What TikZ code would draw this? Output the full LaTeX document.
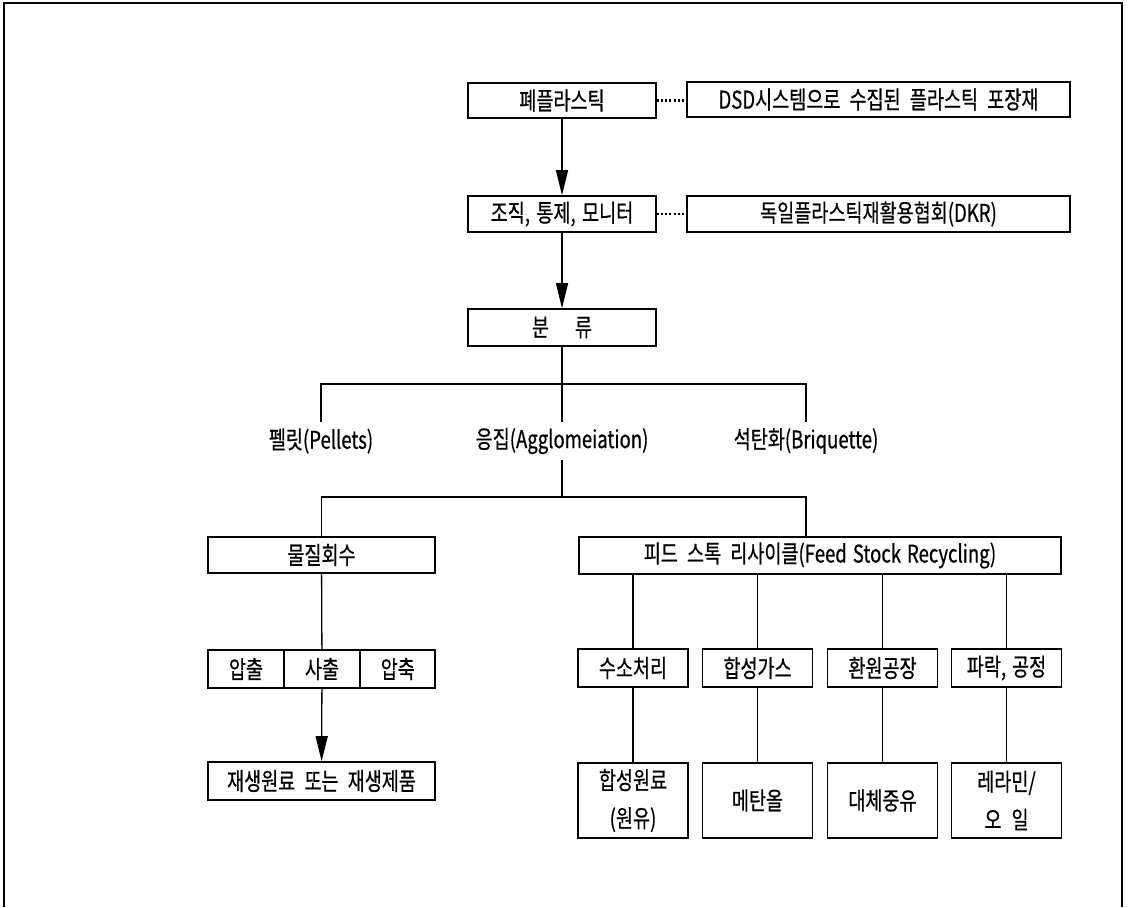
\documentclass[tikz,border=0pt]{standalone}
\usepackage{fontspec}
\newfontfamily\kr[FakeStretch=0.76, FakeBold=0.6, WordSpace=2.2]{Noto Sans CJK KR}
\usetikzlibrary{arrows.meta}
\begin{document}
\begin{tikzpicture}[x=0.5pt,y=-0.5pt,
  every node/.style={font=\kr\fontsize{12.2}{19}\selectfont, inner sep=0pt, align=center},
  box/.style={draw, line width=0.8pt},
  conn/.style={line width=0.65pt},
  arr/.style={line width=0.65pt, -{Triangle[length=12.5pt,width=6pt]}},
  dotline/.style={line width=1.1pt, dash pattern=on 1pt off 1.1pt},
  frameline/.style={line width=1pt}]
\useasboundingbox (0,0) rectangle (1128,907);
\draw[frameline] (4,907) -- (4,3) -- (1122,3) -- (1122,907);

% top column
\node[box, minimum width=94pt, minimum height=17.5pt] (w1) at (562,100.5) {폐플라스틱};
\node[box, minimum width=191.5pt, minimum height=17.5pt] (d1) at (878.5,99.5) {DSD시스템으로 수집된 플라스틱 포장재};
\node[box, minimum width=94pt, minimum height=18pt] (w2) at (562,214) {조직,\hspace{3.2pt}통제,\hspace{3.2pt}모니터};
\node[box, minimum width=191.5pt, minimum height=18pt] (d2) at (878.5,214) {독일플라스틱재활용협회(DKR)};
\node[box, minimum width=94pt, minimum height=18.5pt] (w3) at (562,327.5) {분\hspace{13pt}류};

\draw[dotline] (w1.east) -- (w1.east -| d1.west);
\draw[dotline] (w2.east) -- (w2.east -| d2.west);
\draw[arr] (w1) -- (w2);
\draw[arr] (w2) -- (w3);

% classification labels
\node[minimum height=19pt] (pel) at (321,441) {펠릿(Pellets)};
\node[minimum height=19pt] (agg) at (562,441) {응집(Agglomeiation)};
\node[minimum height=19pt] (bri) at (806,441) {석탄화(Briquette)};
\coordinate (j1) at (562,384);
\coordinate (j2) at (562,497);
\draw[conn] (w3) -- (agg);
\draw[conn] (pel.north) -- (pel.north |- j1) -- (bri.north |- j1) -- (bri.north);

% second level
\node[box, minimum width=113.5pt, minimum height=18pt] (m) at (321.5,555) {물질회수};
\node[box, minimum width=241pt, minimum height=18.5pt] (f) at (820,555.5) {피드 스톡 리사이클(Feed\hspace{3pt}Stock\hspace{3pt}Recycling)};
\draw[conn] (agg.south) -- (j2);
\draw[conn] (m.north) -- (m.north |- j2) -- (bri.south |- j2) -- (bri.south |- f.north);

% left branch
\node[box, minimum width=38pt, minimum height=19pt] (e1) at (246,669) {압출};
\node[box, minimum width=38pt, minimum height=19pt] (e2) at (322,669) {사출};
\node[box, minimum width=37.5pt, minimum height=19pt] (e3) at (397.75,669) {압축};
\node[box, minimum width=113.5pt, minimum height=19pt] (r) at (321.5,781) {재생원료 또는 재생제품};
\draw[conn] (m) -- (e2);
\draw[arr] (e2) -- (r);

% right branch
\node[box, minimum width=55pt, minimum height=19pt] (s1) at (633,668) {수소처리};
\node[box, minimum width=55pt, minimum height=19pt] (s2) at (757.5,668) {합성가스};
\node[box, minimum width=55pt, minimum height=19pt] (s3) at (882.5,668) {환원공장};
\node[box, minimum width=55pt, minimum height=19pt] (s4) at (1006.5,668) {파락,\hspace{3pt}공정};
\node[box, minimum width=55pt, minimum height=37.5pt] (t1) at (633,800.5) {합성원료\\(원유)};
\node[box, minimum width=55pt, minimum height=37.5pt] (t2) at (757.5,800.5) {메탄올};
\node[box, minimum width=55pt, minimum height=37.5pt] (t3) at (882.5,800.5) {대체중유};
\node[box, minimum width=55pt, minimum height=37.5pt] (t4) at (1006.5,800.5) {레라민/\\오\hspace{5pt}일};
\foreach \i in {1,2,3,4}{
  \draw[conn] (s\i.north |- f.south) -- (s\i);
  \draw[conn] (s\i) -- (t\i);
}
\end{tikzpicture}
\end{document}
